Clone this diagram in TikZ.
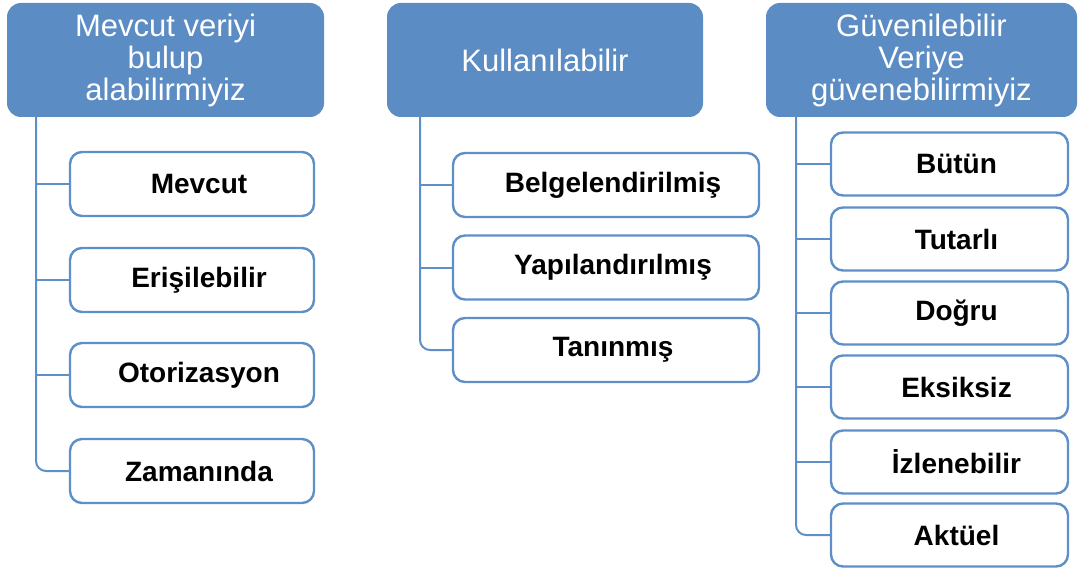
\documentclass[tikz,border=0pt]{standalone}
\usepackage{fontspec}
\setmainfont{Liberation Sans}
\definecolor{hblue}{HTML}{5B8CC4}
\definecolor{lblue}{HTML}{5E8FC8}
\begin{document}
\begin{tikzpicture}[x=1pt,y=-1pt,
  head/.style={draw=none,fill=hblue,rounded corners=14pt,text=white,align=center,
    font=\fontsize{31}{32}\selectfont,inner sep=0pt},
  item/.style={draw=lblue,line width=2.4pt,fill=white,rounded corners=12pt,
    font=\fontsize{28}{30}\selectfont\bfseries,inner sep=0pt,
    execute at begin node=\hspace*{14pt}},
  conn/.style={draw=lblue,line width=2pt,rounded corners=10pt}]
\useasboundingbox (0,0) rectangle (1078,569);
% headers
\node[head,minimum width=317pt,minimum height=114pt] (h1) at (165.5,60) {Mevcut veriyi\\bulup\\alabilirmiyiz};
\node[head,minimum width=316pt,minimum height=114pt] (h2) at (545,60) {Kullanılabilir};
\node[head,minimum width=311pt,minimum height=114pt] (h3) at (921.5,60) {Güvenilebilir\\Veriye\\güvenebilirmiyiz};
% trunk coordinates
\coordinate (t1) at (36,117);
\coordinate (t2) at (420,117);
\coordinate (t3) at (796,117);
% column 1
\foreach \n/\y/\t in {a1/184/Mevcut,a2/280/Erişilebilir,a3/375/Otorizasyon,a4/471/Zamanında}
  \node[item,minimum width=244pt,minimum height=64pt] (\n) at (192,\y) {\t};
% column 2
\foreach \n/\y/\t in {b1/185/Belgelendirilmiş,b2/267.5/Yapılandırılmış,b3/350/Tanınmış}
  \node[item,minimum width=306pt,minimum height=64pt] (\n) at (606,\y) {\t};
% column 3
\foreach \n/\y/\t in {c1/164/Bütün,c2/239/Tutarlı,c3/313/Doğru,c4/387/Eksiksiz,c5/462/İzlenebilir,c6/535/Aktüel}
  \node[item,minimum width=237pt,minimum height=63pt] (\n) at (949.5,\y) {\t};
% connectors
\draw[conn] (t1) |- (a4.west);
\foreach \n in {a1,a2,a3} \draw[conn] (t1 |- \n.west) -- (\n.west);
\draw[conn] (t2) |- (b3.west);
\foreach \n in {b1,b2} \draw[conn] (t2 |- \n.west) -- (\n.west);
\draw[conn] (t3) |- (c6.west);
\foreach \n in {c1,c2,c3,c4,c5} \draw[conn] (t3 |- \n.west) -- (\n.west);
\end{tikzpicture}
\end{document}
